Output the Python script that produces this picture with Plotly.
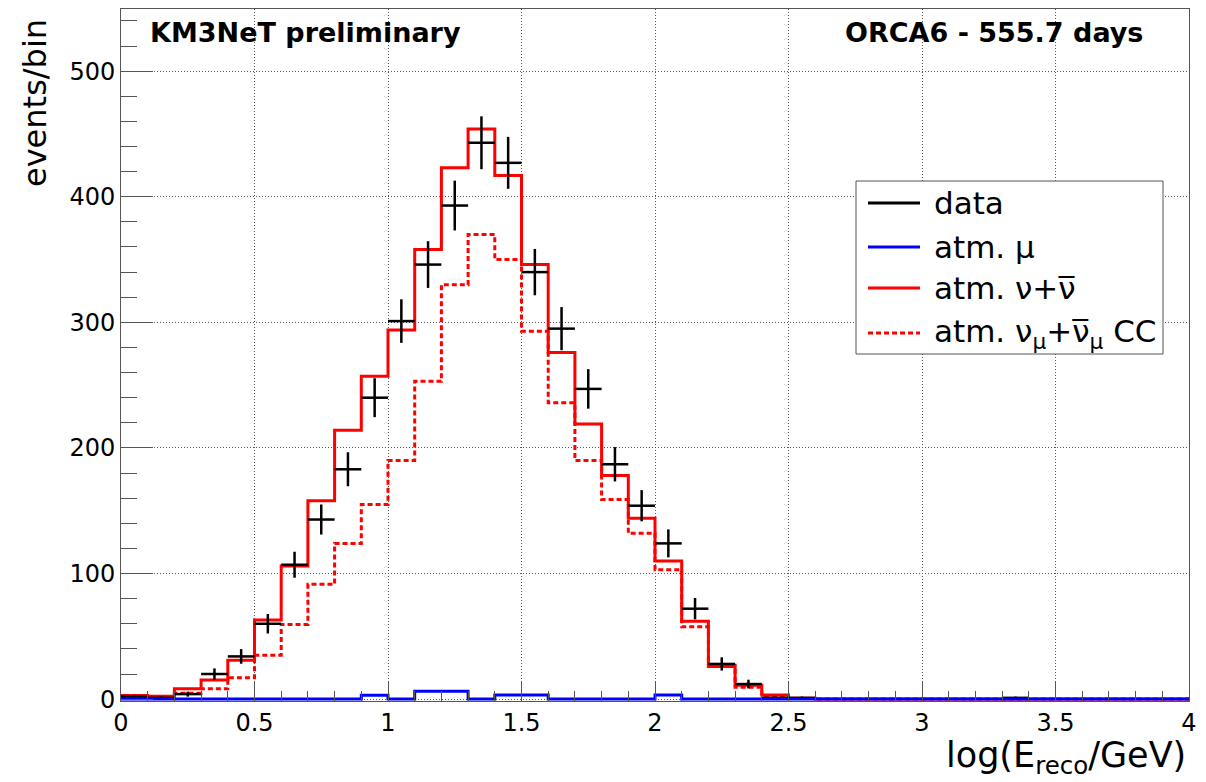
import numpy as np
import plotly.graph_objects as go

# ---------------- data (40 bins of width 0.1 in log10(E_reco/GeV)) ----------------
bin_low = np.round(np.arange(40) * 0.1, 1)
bin_width = 0.1
x_max = 4.0

data_counts = [2, 1, 4, 20, 34, 60, 107, 143, 183, 240,
               301, 346, 393, 443, 427, 340, 295, 247, 187, 154,
               124, 72, 28, 12, 1, 1, 0, 0, 0, 0,
               0, 0, 0, 1, 0, 0, 0, 0, 0, 0]

atm_nu = [2.8, 2.3, 8.3, 15.2, 31, 63, 106, 158, 214, 257,
          294, 358, 423, 454, 417, 346, 276, 219, 178, 144,
          110, 62, 26, 11, 3.3, 0.6, 0, 0, 0, 0,
          0, 0, 0, 0, 0, 0, 0, 0, 0, 0]

atm_numu_cc = [1.0, 1.5, 4.6, 8.3, 17, 35, 59.5, 91.4, 124, 155,
               190, 253, 330, 370, 350, 293, 236, 190, 159, 132,
               103, 57.6, 27, 9.4, 2.5, 0.5, 0, 0, 0, 0,
               0, 0, 0, 0, 0, 0, 0, 0, 0, 0]

atm_mu = [0, 0, 0, 0, 0, 0, 0, 0, 0, 3.0,
          0, 6.2, 6.2, 0, 3.2, 3.2, 0, 0, 0, 0,
          3.2, 0, 0, 0, 0, 0, 0, 0, 0, 0,
          0, 0, 0, 0, 0, 0, 0, 0, 0, 0]

x_ticks = [0, 0.5, 1, 1.5, 2, 2.5, 3, 3.5, 4]
y_ticks = [0, 100, 200, 300, 400, 500]

FONT = "DejaVu Sans"
GRID = "#555555"
DASH = "5px,3px"

# ---------------- helpers ----------------
def step_xy(values):
    xs = np.append(bin_low, x_max)
    ys = np.append(np.asarray(values, float), values[-1])
    return xs, ys

# plot area in pixels (for paper-coordinate decorations)
L, R, T, B = 121, 1189, 9, 701
def px(xpix):
    return (xpix - L) / (R - L)
def py(ypix):
    return (B - ypix) / (B - T)

fig = go.Figure()

xs, ys = step_xy(atm_numu_cc)
fig.add_trace(go.Scatter(x=xs, y=ys, mode="lines", line=dict(shape="hv", color="#ff0000", width=3, dash=DASH),
                         name="atm. numu CC", hoverinfo="skip"))
xs, ys = step_xy(atm_nu)
fig.add_trace(go.Scatter(x=xs, y=ys, mode="lines", line=dict(shape="hv", color="#ff0000", width=3),
                         name="atm. nu", hoverinfo="skip"))

d = np.asarray(data_counts, float)
mask = d > 0
fig.add_trace(go.Scatter(
    x=bin_low[mask] + bin_width / 2, y=d[mask], mode="markers",
    marker=dict(size=1, color="rgba(0,0,0,0)"),
    error_x=dict(type="constant", value=bin_width / 2, width=0, thickness=2.5, color="black"),
    error_y=dict(type="data", array=np.sqrt(d[mask]), width=0, thickness=2.5, color="black"),
    name="data"))

xs, ys = step_xy(atm_mu)
fig.add_trace(go.Scatter(x=xs, y=ys, mode="lines", line=dict(shape="hv", color="#0000ff", width=3),
                         name="atm. mu", hoverinfo="skip"))

axis_common = dict(ticks="inside", tickwidth=1, tickcolor=GRID, showgrid=True, gridcolor=GRID,
                   griddash="1px,2px", gridwidth=1, showline=True, linecolor=GRID, linewidth=1,
                   mirror=True, zeroline=False, tickfont=dict(family=FONT, size=24, color="black"))

fig.update_xaxes(range=[0, x_max], tickvals=x_ticks, ticklen=20,
                 minor=dict(dtick=0.1, tick0=0, ticks="inside", ticklen=10, tickcolor=GRID, tickwidth=1, showgrid=False),
                 **axis_common)
fig.update_yaxes(range=[-1.5, 549.5], tickvals=y_ticks, ticklen=32,
                 minor=dict(dtick=20, tick0=0, ticks="inside", ticklen=16, tickcolor=GRID, tickwidth=1, showgrid=False),
                 **axis_common)

shapes = []
annotations = []

# legend box
shapes.append(dict(type="rect", xref="paper", yref="paper", x0=px(856), x1=px(1163), y0=py(354), y1=py(181),
                   fillcolor="white", line=dict(color=GRID, width=1), layer="above"))
legend_items = [
    ("data", "black", "solid", 203),
    ("atm. μ", "#0000ff", "solid", 247),
    ("atm. ν+ν\u0305", "#ff0000", "solid", 288),
    ("atm. ν<sub>μ</sub>+ν\u0305<sub>μ</sub> CC", "#ff0000", DASH, 333),
]
for label, color, dash, ypix in legend_items:
    shapes.append(dict(type="line", xref="paper", yref="paper", x0=px(868), x1=px(920), y0=py(ypix), y1=py(ypix),
                       line=dict(color=color, width=3, dash=dash), layer="above"))
    annotations.append(dict(text=label, xref="paper", yref="paper", x=px(932), y=py(ypix), xanchor="left",
                            yanchor="middle", showarrow=False, font=dict(family=FONT, size=31, color="black")))

annotations.append(dict(text="<b>KM3NeT preliminary</b>", xref="paper", yref="paper", x=px(148), y=py(33),
                        xanchor="left", yanchor="middle", showarrow=False,
                        font=dict(family=FONT, size=27, color="black")))
annotations.append(dict(text="<b>ORCA6 - 555.7 days</b>", xref="paper", yref="paper", x=px(1145), y=py(33),
                        xanchor="right", yanchor="middle", showarrow=False,
                        font=dict(family=FONT, size=27, color="black")))
annotations.append(dict(text="events/bin", xref="paper", yref="paper", x=px(35), y=py(103), textangle=-90,
                        xanchor="center", yanchor="middle", showarrow=False,
                        font=dict(family=FONT, size=32, color="black")))
annotations.append(dict(text="log(E<sub>reco</sub>/GeV)", xref="paper", yref="paper", x=px(1188), y=py(757),
                        xanchor="right", yanchor="middle", showarrow=False,
                        font=dict(family=FONT, size=35, color="black")))

fig.update_layout(width=1206, height=782, autosize=False,
                  margin=dict(l=L, r=1206 - R, t=T, b=782 - B, pad=0),
                  paper_bgcolor="white", plot_bgcolor="white", showlegend=False,
                  font=dict(family=FONT, size=24, color="black"),
                  shapes=shapes, annotations=annotations)

fig.write_html("out.html")
